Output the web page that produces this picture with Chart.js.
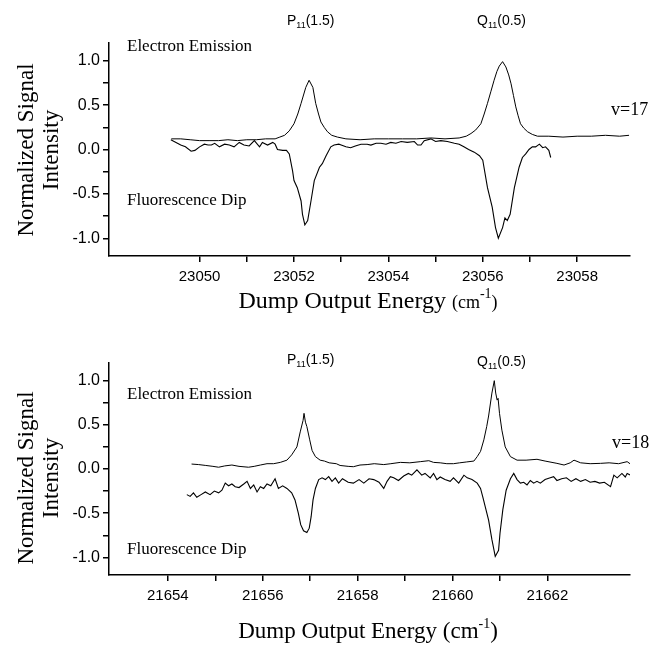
<!DOCTYPE html>
<html>
<head>
<meta charset="utf-8">
<script src="https://cdn.jsdelivr.net/npm/chart.js@4.4.1/dist/chart.umd.min.js"></script>
<style>
  html, body { margin: 0; padding: 0; background: #fff; }
  .panel { position: absolute; left: 0; }
</style>
</head>
<body>
<div class="panel" style="top:0"><canvas id="chartTop" width="652" height="320"></canvas></div>
<div class="panel" style="top:320px"><canvas id="chartBottom" width="652" height="326"></canvas></div>
<script>
// v=17 spectra: [energy cm-1, normalized signal]
const emission17 = [
  [23049.40,0.12],[23049.6,0.12],[23049.8,0.11],[23050.0,0.10],[23050.2,0.10],[23050.4,0.10],
  [23050.6,0.11],[23050.8,0.10],[23051.0,0.11],[23051.2,0.11],[23051.4,0.12],[23051.6,0.12],
  [23051.7,0.14],[23051.8,0.16],[23051.9,0.21],[23052.0,0.29],[23052.08,0.40],[23052.15,0.52],
  [23052.25,0.70],[23052.32,0.78],[23052.4,0.70],[23052.46,0.52],[23052.52,0.40],[23052.57,0.31],
  [23052.64,0.25],[23052.71,0.20],[23052.8,0.16],[23052.92,0.14],[23053.1,0.12],[23053.4,0.11],
  [23053.7,0.12],[23054.0,0.12],[23054.3,0.12],[23054.6,0.12],[23054.9,0.13],[23055.2,0.12],
  [23055.5,0.13],[23055.65,0.15],[23055.75,0.18],[23055.85,0.22],[23055.96,0.29],[23056.03,0.40],
  [23056.1,0.52],[23056.17,0.65],[23056.24,0.78],[23056.3,0.88],[23056.35,0.94],[23056.42,0.99],
  [23056.49,0.93],[23056.55,0.84],[23056.6,0.74],[23056.65,0.61],[23056.7,0.48],[23056.75,0.38],
  [23056.8,0.29],[23056.87,0.24],[23056.95,0.20],[23057.05,0.17],[23057.16,0.15],[23057.4,0.15],
  [23057.7,0.14],[23058.0,0.15],[23058.3,0.15],[23058.6,0.16],[23058.9,0.15],[23059.1,0.16]
];
const dip17 = [
  [23049.39,0.11],[23049.5,0.08],[23049.6,0.05],[23049.7,0.03],[23049.82,-0.02],[23049.9,-0.01],
  [23050.0,0.03],[23050.1,0.06],[23050.18,0.05],[23050.25,0.05],[23050.32,0.07],[23050.42,0.03],
  [23050.53,0.06],[23050.63,0.05],[23050.73,0.03],[23050.84,0.08],[23050.94,0.05],[23051.05,0.04],
  [23051.16,0.10],[23051.27,0.03],[23051.33,0.08],[23051.44,0.05],[23051.55,0.08],[23051.6,0.06],
  [23051.65,0.00],[23051.76,-0.01],[23051.84,-0.01],[23051.9,-0.05],[23051.97,-0.24],[23052.0,-0.35],
  [23052.07,-0.43],[23052.15,-0.58],[23052.18,-0.73],[23052.23,-0.85],[23052.29,-0.80],[23052.36,-0.58],
  [23052.43,-0.35],[23052.54,-0.20],[23052.6,-0.16],[23052.68,-0.07],[23052.78,0.03],[23052.85,0.05],
  [23052.95,0.06],[23053.0,0.05],[23053.1,0.03],[23053.2,0.02],[23053.3,0.04],[23053.42,0.06],
  [23053.55,0.06],[23053.63,0.05],[23053.74,0.07],[23053.84,0.07],[23053.95,0.06],[23054.05,0.08],
  [23054.16,0.07],[23054.27,0.09],[23054.4,0.08],[23054.55,0.09],[23054.62,0.05],[23054.69,0.05],
  [23054.76,0.10],[23054.9,0.12],[23055.0,0.09],[23055.11,0.10],[23055.25,0.09],[23055.4,0.07],
  [23055.5,0.06],[23055.6,0.03],[23055.7,0.00],[23055.82,-0.03],[23055.93,-0.07],[23056.0,-0.12],
  [23056.1,-0.43],[23056.2,-0.65],[23056.27,-0.88],[23056.33,-1.00],[23056.42,-0.88],[23056.47,-0.77],
  [23056.52,-0.80],[23056.58,-0.73],[23056.67,-0.43],[23056.77,-0.20],[23056.84,-0.09],[23056.91,-0.05],
  [23056.98,0.00],[23057.05,0.03],[23057.12,0.03],[23057.2,0.06],[23057.27,0.02],[23057.33,0.03],
  [23057.4,-0.01],[23057.44,-0.09]
];

// v=18 spectra
const emission18 = [
  [21654.5,0.056],[21654.65,0.05],[21654.8,0.04],[21654.95,0.03],[21655.07,0.02],[21655.2,0.035],
  [21655.35,0.045],[21655.5,0.03],[21655.7,0.02],[21655.82,0.03],[21655.95,0.045],[21656.09,0.06],
  [21656.23,0.06],[21656.37,0.075],[21656.51,0.10],[21656.61,0.16],[21656.72,0.25],[21656.79,0.42],
  [21656.85,0.55],[21656.87,0.63],[21656.9,0.53],[21656.93,0.48],[21656.99,0.33],[21657.04,0.21],
  [21657.11,0.14],[21657.21,0.10],[21657.3,0.09],[21657.4,0.07],[21657.55,0.06],[21657.63,0.04],
  [21657.8,0.03],[21657.91,0.026],[21658.05,0.045],[21658.2,0.05],[21658.35,0.06],[21658.55,0.05],
  [21658.7,0.06],[21658.9,0.075],[21659.1,0.07],[21659.32,0.083],[21659.5,0.094],[21659.6,0.075],
  [21659.74,0.07],[21659.88,0.06],[21660.02,0.06],[21660.15,0.07],[21660.3,0.08],[21660.45,0.09],
  [21660.52,0.14],[21660.59,0.20],[21660.66,0.33],[21660.72,0.48],[21660.76,0.60],[21660.83,0.86],
  [21660.88,1.00],[21660.91,0.86],[21660.94,0.78],[21660.96,0.80],[21660.99,0.63],[21661.04,0.44],
  [21661.11,0.25],[21661.22,0.14],[21661.36,0.10],[21661.55,0.10],[21661.78,0.11],[21661.95,0.09],
  [21662.2,0.064],[21662.35,0.045],[21662.48,0.07],[21662.56,0.10],[21662.7,0.07],[21662.9,0.06],
  [21663.12,0.064],[21663.3,0.07],[21663.5,0.06],[21663.68,0.083],[21663.75,0.056]
];
const dip18 = [
  [21654.4,-0.29],[21654.47,-0.31],[21654.54,-0.27],[21654.61,-0.32],[21654.7,-0.29],[21654.79,-0.26],
  [21654.89,-0.29],[21654.98,-0.25],[21655.07,-0.27],[21655.14,-0.24],[21655.21,-0.16],[21655.28,-0.19],
  [21655.35,-0.17],[21655.42,-0.20],[21655.5,-0.21],[21655.6,-0.17],[21655.67,-0.14],[21655.74,-0.22],
  [21655.81,-0.18],[21655.88,-0.26],[21655.95,-0.20],[21656.02,-0.22],[21656.09,-0.17],[21656.17,-0.19],
  [21656.26,-0.11],[21656.33,-0.22],[21656.42,-0.19],[21656.51,-0.22],[21656.61,-0.27],[21656.68,-0.35],
  [21656.75,-0.50],[21656.8,-0.63],[21656.86,-0.70],[21656.93,-0.72],[21656.98,-0.67],[21657.02,-0.54],
  [21657.06,-0.35],[21657.11,-0.22],[21657.18,-0.12],[21657.25,-0.10],[21657.32,-0.12],[21657.39,-0.087],
  [21657.46,-0.14],[21657.53,-0.10],[21657.6,-0.16],[21657.68,-0.11],[21657.8,-0.15],[21657.91,-0.16],
  [21658.03,-0.12],[21658.13,-0.16],[21658.24,-0.11],[21658.34,-0.12],[21658.45,-0.15],[21658.55,-0.22],
  [21658.62,-0.14],[21658.69,-0.087],[21658.76,-0.10],[21658.86,-0.13],[21658.97,-0.08],[21659.07,-0.05],
  [21659.14,-0.07],[21659.25,-0.01],[21659.35,-0.07],[21659.42,-0.05],[21659.53,-0.10],[21659.6,-0.05],
  [21659.67,-0.12],[21659.74,-0.09],[21659.84,-0.12],[21659.95,-0.14],[21660.02,-0.10],[21660.13,-0.16],
  [21660.24,-0.07],[21660.31,-0.10],[21660.41,-0.12],[21660.52,-0.16],[21660.59,-0.22],[21660.64,-0.32],
  [21660.69,-0.43],[21660.76,-0.58],[21660.83,-0.80],[21660.9,-0.99],[21660.97,-0.92],[21661.0,-0.73],
  [21661.06,-0.46],[21661.13,-0.24],[21661.22,-0.11],[21661.29,-0.05],[21661.36,-0.12],[21661.43,-0.16],
  [21661.5,-0.15],[21661.57,-0.18],[21661.64,-0.13],[21661.71,-0.16],[21661.78,-0.14],[21661.85,-0.16],
  [21661.95,-0.12],[21662.06,-0.10],[21662.13,-0.087],[21662.2,-0.13],[21662.3,-0.11],[21662.4,-0.10],
  [21662.5,-0.14],[21662.6,-0.11],[21662.7,-0.14],[21662.8,-0.12],[21662.9,-0.15],[21663.0,-0.14],
  [21663.1,-0.16],[21663.2,-0.15],[21663.33,-0.20],[21663.4,-0.07],[21663.47,-0.10],[21663.57,-0.05],
  [21663.64,-0.09],[21663.68,-0.05],[21663.75,-0.07]
];

const xRangeTop = [23048.08, 23059.12];
const xRangeBottom = [21652.76, 21663.74];
const yRange = [-1.2, 1.2];

const SERIF = '"Liberation Serif", "Times New Roman", serif';
const SANS = '"Liberation Sans", Arial, sans-serif';

const near = (v, step) => Math.abs(v / step - Math.round(v / step)) < 1e-6;

// text drawn on top of each panel
const panelText = {
  id: 'panelText',
  afterDraw(chart, args, opts) {
    const ctx = chart.ctx;
    ctx.save();
    ctx.fillStyle = '#000';
    ctx.textBaseline = 'middle';

    // line labels with subscript
    const sub = (x, y, a, s, b) => {
      ctx.textAlign = 'left';
      ctx.font = '14px ' + SANS;
      ctx.fillText(a, x, y);
      x += ctx.measureText(a).width;
      ctx.font = '9px ' + SANS;
      ctx.fillText(s, x, y + 5);
      x += ctx.measureText(s).width;
      ctx.font = '14px ' + SANS;
      ctx.fillText(b, x, y);
    };
    sub(287, opts.pY, 'P', '11', '(1.5)');
    sub(477, opts.qY, 'Q', '11', '(0.5)');

    ctx.textAlign = 'left';
    ctx.font = '17px ' + SERIF;
    ctx.fillText('Electron Emission', 127, opts.eeY);
    ctx.fillText('Fluorescence Dip', 127, opts.fdY);
    ctx.font = '18px ' + SERIF;
    ctx.fillText(opts.vLabel, opts.vX, opts.vY);

    // x axis title with superscript, placed on its baseline
    ctx.textBaseline = 'alphabetic';
    const big = opts.titleSize + 'px ' + SERIF;
    const small = (opts.smallParen ? '18px ' : opts.titleSize + 'px ') + SERIF;
    const parts = [['Dump Output Energy ', big, 0], ['(cm', small, 0], ['-1', '14px ' + SERIF, -10], [')', small, 0]];
    let w = 0;
    parts.forEach(p => { ctx.font = p[1]; w += ctx.measureText(p[0]).width; });
    let x = 368 - w / 2;
    parts.forEach(p => {
      ctx.font = p[1];
      ctx.fillText(p[0], x, opts.xtY + p[2]);
      x += ctx.measureText(p[0]).width;
    });

    // y axis title, two lines rotated
    ctx.textBaseline = 'middle';
    ctx.font = '23px ' + SERIF;
    ctx.textAlign = 'center';
    [['Normalized Signal', 27], ['Intensity', 52]].forEach(([t, cx]) => {
      ctx.save();
      ctx.translate(cx, opts.ytY);
      ctx.rotate(-Math.PI / 2);
      ctx.fillText(t, 0, 0);
      ctx.restore();
    });
    ctx.restore();
  }
};

function makePanel(canvasId, emission, dip, xRange, xAxisHeight, text) {
  const toPts = arr => arr.map(([x, y]) => ({ x, y }));
  const lineStyle = { borderColor: '#000', borderWidth: 1, pointRadius: 0, showLine: true, tension: 0 };
  new Chart(document.getElementById(canvasId), {
    type: 'scatter',
    data: {
      datasets: [
        Object.assign({ label: 'Electron Emission', data: toPts(emission) }, lineStyle),
        Object.assign({ label: 'Fluorescence Dip', data: toPts(dip) }, lineStyle, { borderWidth: 1.1 })
      ]
    },
    options: {
      responsive: false,
      animation: false,
      devicePixelRatio: 1,
      layout: { padding: { top: 43, right: 22, left: 0, bottom: 0 } },
      plugins: { legend: { display: false }, tooltip: { enabled: false }, panelText: text },
      scales: {
        x: {
          type: 'linear', min: xRange[0], max: xRange[1],
          afterBuildTicks: s => { s.ticks = s.ticks.filter(t => near(t.value, 1)); },
          afterFit: s => { s.height = xAxisHeight; },
          ticks: {
            stepSize: 1, maxTicksLimit: 20, padding: 6, color: '#000', maxRotation: 0, autoSkip: false,
            font: { family: SANS, size: 15 },
            callback: v => (Math.round(v) % 2 === 0 ? String(Math.round(v)) : '')
          },
          grid: { drawOnChartArea: false, drawTicks: true, tickLength: 6, color: '#000', lineWidth: 1.5 },
          border: { display: true, color: '#000', width: 1.5 }
        },
        y: {
          min: yRange[0], max: yRange[1],
          afterBuildTicks: s => { s.ticks = s.ticks.filter(t => near(t.value, 0.25)); },
          afterFit: s => { s.width = 109; },
          ticks: {
            stepSize: 0.25, maxTicksLimit: 20, padding: 3, color: '#000', autoSkip: false,
            font: { family: SANS, size: 16 },
            callback: v => (near(v, 0.5) ? (Math.abs(v) < 1e-9 ? '0.0' : v.toFixed(1)) : '')
          },
          grid: { drawOnChartArea: false, drawTicks: true, tickLength: 6, color: '#000', lineWidth: 1.5 },
          border: { display: true, color: '#000', width: 1.5 }
        }
      }
    },
    plugins: [panelText]
  });
}

makePanel('chartTop', emission17, dip17, xRangeTop, 64,
  { pY: 21, qY: 21, eeY: 47, fdY: 201, vLabel: 'v=17', vX: 611, vY: 110, xtY: 308, ytY: 150, smallParen: true, titleSize: 24 });
makePanel('chartBottom', emission18, dip18, xRangeBottom, 71,
  { pY: 40, qY: 42, eeY: 75, fdY: 230, vLabel: 'v=18', vX: 612, vY: 123, xtY: 318, ytY: 158, smallParen: false, titleSize: 23 });
</script>
</body>
</html>
